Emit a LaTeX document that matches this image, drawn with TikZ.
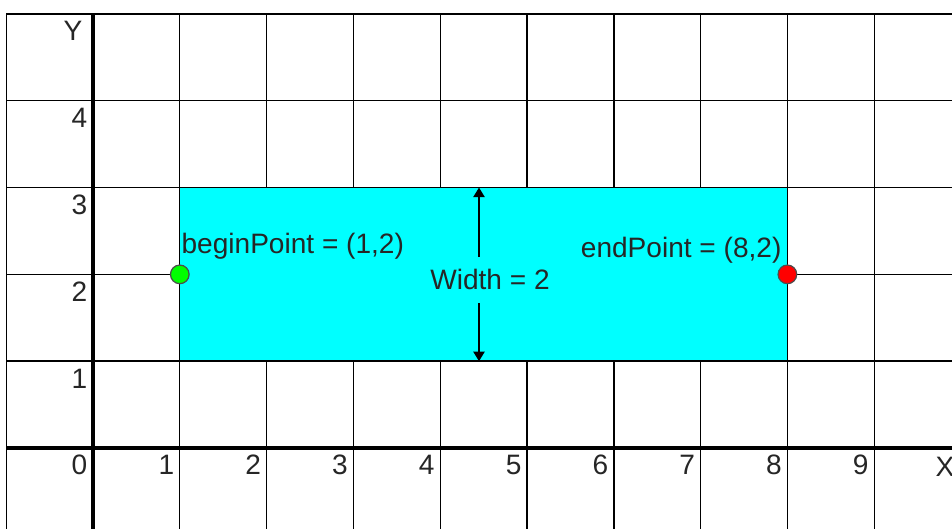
\documentclass[tikz,border=0pt]{standalone}
\usepackage{fontspec}
\setmainfont{Liberation Sans}
\usetikzlibrary{arrows.meta}
\definecolor{aquafill}{RGB}{0,255,255}
\definecolor{dotgreen}{RGB}{0,255,0}
\definecolor{dotred}{RGB}{255,0,0}
\begin{document}
\begin{tikzpicture}[
  gridline/.style={draw=black, line width=0.45pt},
  axisline/.style={draw=black, line width=1.1pt},
  lbl/.style={inner sep=0pt, font=\fontsize{9.2}{11}\selectfont, text=black!85},
  dot/.style={circle, draw=black!70, line width=0.4pt, minimum size=0.215cm, inner sep=0pt},
  dimarrow/.style={draw=black, line width=0.5pt, -{Triangle[width=0.13cm,length=0.11cm]}}
]
\useasboundingbox (-1.0714,-0.933) rectangle (9.896,5.161);
\fill[white] (-1.0714,-0.933) rectangle (9.896,5.161);
% grid
\foreach \x in {-1,1,2,3,4,5,6,7,8,9} \draw[gridline] (\x,-0.933) -- (\x,5);
\foreach \y in {1,2,3,4,5} \draw[gridline] (-1,\y) -- (9.896,\y);
\draw[axisline] (0,-0.933) -- (0,5);
\draw[axisline] (-1,0) -- (9.896,0);
% rectangle
\draw[fill=aquafill, draw=black, line width=0.45pt] (1,1) rectangle (8,3);
% axis labels
\node[lbl, anchor=base east] (ylab) at (-0.115,4.700) {Y};
\node[lbl, anchor=base west] (xlab) at (9.700,-0.323) {X};
\foreach \x in {0,...,9} \node[lbl, anchor=base east] (xn\x) at (\x-0.058,-0.311) {\x};
\foreach \y in {1,...,4} \node[lbl, anchor=base east] (yn\y) at (-0.058,\y-0.311) {\y};
% points
\node[dot, fill=dotgreen] (bp) at (1,2) {};
\node[dot, fill=dotred] (ep) at (8,2) {};
\node[lbl, anchor=base west] (bt) at (1.014,2.246) {beginPoint = (1,2)};
\node[lbl, anchor=base east] (et) at (7.938,2.200) {endPoint = (8,2)};
% width arrow
\node[lbl, anchor=base] (wt) at (4.574,1.820) {Width = 2};
\coordinate (wtop) at (4.447,3);
\coordinate (wbot) at (4.447,1);
\coordinate (wa) at (4.447,2.20);
\coordinate (wb) at (4.447,1.67);
\draw[dimarrow] (wa) -- (wtop);
\draw[dimarrow] (wb) -- (wbot);
\end{tikzpicture}
\end{document}
